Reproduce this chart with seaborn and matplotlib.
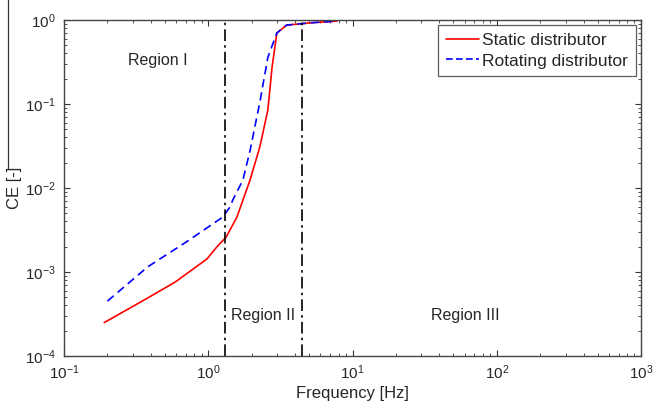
import numpy as np
import pandas as pd
import matplotlib
matplotlib.use("Agg")
import matplotlib.pyplot as plt
import seaborn as sns
from matplotlib.lines import Line2D
from matplotlib.ticker import LogLocator, NullFormatter

# Data
static_freq = [0.19, 0.38, 0.59, 0.98, 1.15, 1.33, 1.58, 1.95, 2.28, 2.59, 2.77, 2.99, 3.5, 5.3, 7.8]
static_ce = [2.5e-4, 4.9e-4, 7.6e-4, 1.43e-3, 2.0e-3, 2.6e-3, 4.5e-3, 0.0125, 0.031, 0.085, 0.275, 0.70, 0.87, 0.93, 0.97]
rot_freq = [0.2, 0.38, 0.71, 1.26, 1.41, 1.48, 1.74, 1.95, 2.29, 2.59, 2.99, 3.5, 5.3, 7.8]
rot_ce = [4.5e-4, 1.15e-3, 2.3e-3, 4.5e-3, 5.9e-3, 7.2e-3, 0.0125, 0.028, 0.11, 0.36, 0.70, 0.87, 0.93, 0.97]
series_names = ["Static distributor", "Rotating distributor"]
boundaries = [1.31, 4.48]
region_labels = ["Region I", "Region II", "Region III"]
region_pos = [(0.45, 0.33), (2.39, 3.0e-4), (61.0, 3.0e-4)]

df = pd.DataFrame({
    "Frequency": static_freq + rot_freq,
    "CE": static_ce + rot_ce,
    "Series": [series_names[0]] * len(static_freq) + [series_names[1]] * len(rot_freq),
})

sns.set_style("ticks")
plt.rcParams["font.family"] = ["Liberation Sans", "DejaVu Sans"]
plt.rcParams["mathtext.fontset"] = "custom"
plt.rcParams["mathtext.rm"] = "Liberation Sans"
plt.rcParams["mathtext.it"] = "Liberation Sans"
plt.rcParams["mathtext.default"] = "regular"

fig = plt.figure(figsize=(6.54, 4.08), dpi=100)
ax = fig.add_axes([64 / 654, 1 - 356 / 408, (641 - 64) / 654, (356 - 20) / 408])

sns.lineplot(data=df, x="Frequency", y="CE", hue="Series", style="Series",
             palette={series_names[0]: "#ff0000", series_names[1]: "#0000ff"},
             dashes={series_names[0]: "", series_names[1]: (5, 3)},
             sort=False, estimator=None, linewidth=1.2, ax=ax, legend=False)

ax.set_xscale("log")
ax.set_yscale("log")
ax.set_xlim(0.1, 1000)
ax.set_ylim(1e-4, 1)

for b in boundaries:
    ax.axvline(b, color="black", linestyle=(0, (7, 2.5, 1.5, 2.5)), linewidth=1.2)

for lab, (x, y) in zip(region_labels, region_pos):
    ax.text(x, y, lab, ha="center", va="center", fontsize=11.5)

ax.set_xlabel("Frequency [Hz]", fontsize=12, labelpad=3)
ax.set_ylabel("CE [-]", fontsize=12, labelpad=2)

ax.xaxis.set_major_locator(LogLocator(base=10, numticks=10))
ax.xaxis.set_minor_locator(LogLocator(base=10, subs=np.arange(2, 10), numticks=20))
ax.xaxis.set_minor_formatter(NullFormatter())
ax.yaxis.set_major_locator(LogLocator(base=10, numticks=10))
ax.yaxis.set_minor_locator(LogLocator(base=10, subs=np.arange(2, 10), numticks=20))
ax.yaxis.set_minor_formatter(NullFormatter())
ax.tick_params(which="both", direction="in", top=True, right=True, labelsize=11, color="#333333")
ax.tick_params(axis="x", which="major", pad=5)
ax.tick_params(axis="y", which="major", pad=6)
ax.tick_params(which="major", length=4)
ax.tick_params(which="minor", length=2.5)
for s in ax.spines.values():
    s.set_color("#444444")
    s.set_linewidth(1.0)

handles = [Line2D([], [], color="#ff0000", linewidth=1.2),
           Line2D([], [], color="#0000ff", linewidth=1.2, linestyle=(0, (4, 2)))]
leg = ax.legend(handles, series_names, loc="upper right", fontsize=12.5,
                frameon=True, fancybox=False, edgecolor="#333333",
                borderpad=0.45, handlelength=1.9, handletextpad=0.2,
                labelspacing=0.3, borderaxespad=0.3)
leg.get_frame().set_linewidth(0.9)

fig.add_artist(Line2D([8 / 654, 8 / 654], [1, 1 - 168 / 408], color="#333333", linewidth=0.9))

fig.savefig("out.png", dpi=100)
